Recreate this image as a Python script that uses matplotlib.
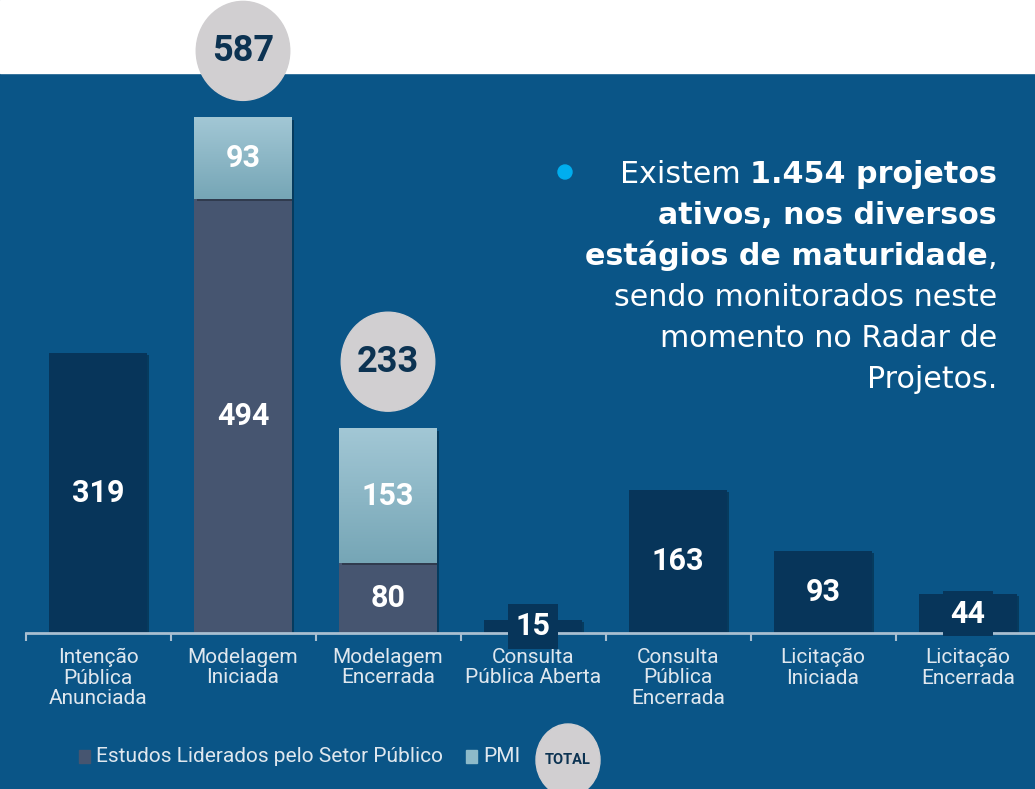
import matplotlib.pyplot as plt
import matplotlib.patches as mpatches
import matplotlib.patheffects as pe
import numpy as np

# data
categories = ['Intenção\nPública\nAnunciada', 'Modelagem\nIniciada', 'Modelagem\nEncerrada',
              'Consulta\nPública Aberta', 'Consulta\nPública\nEncerrada', 'Licitação\nIniciada',
              'Licitação\nEncerrada']
estagio_unico = [319, 0, 0, 15, 163, 93, 44]
setor_publico = [0, 494, 80, 0, 0, 0, 0]
pmi = [0, 93, 153, 0, 0, 0, 0]
legend_labels = ['Estudos Liderados pelo Setor Público', 'PMI', 'TOTAL']

BG = '#0a5587'
DARK = '#07355a'
GRAY = '#465570'
PMI_TOP = '#a2c7d5'
PMI_BOT = '#76a6b6'
CIRCLE = '#d1cfd1'
NAVY = '#0c3352'
LABEL = '#dfe7ee'
AXIS = '#a9bfd1'

W, H = 1035, 789
SCALE = 0.878  # pixels per unit


def px(x, y):
	return x / W, 1 - y / H


fig = plt.figure(figsize=(W / 100, H / 100), dpi=100, facecolor=BG)
fig.add_artist(mpatches.Rectangle((0, 1 - 73 / H), 1, 73 / H, transform=fig.transFigure,
                                  color='white', zorder=-1))

ax = fig.add_axes([25.5 / W, 156 / H, 1015 / W, 633 / H])
ax.set_facecolor('none')
x = np.arange(len(categories))
bw = 0.67
shadow = [pe.SimplePatchShadow(offset=(2, -1.5), shadow_rgbFace='black', alpha=0.3), pe.Normal()]

# single-stage bars
single = np.array(estagio_unico)
ax.bar(x, single, bw, color=DARK, path_effects=shadow, zorder=2)

# stacked bars
sp = np.array(setor_publico)
pm = np.array(pmi)
ax.bar(x, sp, bw, color=GRAY, path_effects=shadow, zorder=2)
ax.bar(x, pm, bw, bottom=sp, color=PMI_BOT, path_effects=shadow, zorder=2)
grad = np.linspace(0, 1, 100).reshape(-1, 1)
cmap = plt.matplotlib.colors.LinearSegmentedColormap.from_list('pmi', [PMI_BOT, PMI_TOP])
for i in x:
	if pm[i] > 0:
		ax.imshow(grad, cmap=cmap, origin='lower', aspect='auto', zorder=3,
		          extent=(i - bw / 2, i + bw / 2, sp[i], sp[i] + pm[i]))

# value labels
lab = dict(ha='center', va='center', color='white', fontsize=22, fontweight='bold', family='Roboto', zorder=5)
for i in x:
	if single[i] > 0:
		ax.text(i, single[i] / 2, str(single[i]),
		        bbox=dict(boxstyle='square,pad=0.25', fc=DARK, ec='none'), **lab)
	if sp[i] > 0:
		ax.text(i, sp[i] / 2, str(sp[i]), **lab)
	if pm[i] > 0:
		ax.text(i, sp[i] + pm[i] / 2, str(pm[i]), **lab)
		total = sp[i] + pm[i]
		ax.add_patch(mpatches.Ellipse((i, total + 76), 0.645, 99 / SCALE, color=CIRCLE, zorder=4, clip_on=False))
		ax.text(i, total + 76, str(total), ha='center', va='center', color=NAVY, fontsize=26,
		        fontweight='bold', family='Roboto', zorder=5, clip_on=False)

ax.set_xlim(-0.5, len(categories) - 0.5)
ax.set_ylim(0, 633 / SCALE)

# axis styling
for s in ['top', 'left', 'right']:
	ax.spines[s].set_visible(False)
ax.spines['bottom'].set_color(AXIS)
ax.spines['bottom'].set_linewidth(2)
ax.set_yticks([])
ax.set_xticks(x, categories)
ax.set_xticks(np.arange(-0.5, len(categories), 1), minor=True)
ax.tick_params(axis='x', which='major', length=0, pad=11, labelcolor=LABEL, labelsize=15)
ax.tick_params(axis='x', which='minor', length=6, width=1.5, color=AXIS, direction='out')
plt.setp(ax.get_xticklabels(), family='Roboto', linespacing=1.08)

# text block on the right
txt = dict(fontsize=21.7, color='white', family='DejaVu Sans', ha='right')
right = 997
t = fig.text(*px(right, 183), '1.454 projetos', fontweight='bold', va='baseline', **txt)
ax.annotate('Existem ', xy=(0, 0), xycoords=t, va='bottom', annotation_clip=False, **txt)
fig.text(*px(right, 224), 'ativos, nos diversos', fontweight='bold', va='baseline', **txt)
t = fig.text(*px(right, 265), ',', va='baseline', **txt)
ax.annotate('estágios de maturidade', xy=(0, 0), xycoords=t, va='bottom', fontweight='bold',
            annotation_clip=False, **txt)
fig.text(*px(right, 306), 'sendo monitorados neste', va='baseline', **txt)
fig.text(*px(right, 347), 'momento no Radar de', va='baseline', **txt)
fig.text(*px(right, 388), 'Projetos.', va='baseline', **txt)
fig.add_artist(mpatches.Ellipse(px(565, 172), 14 / W, 14 / H, transform=fig.transFigure, color='#00aeef'))

# legend
fig.add_artist(mpatches.Rectangle(px(79, 763), 11 / W, 13 / H, transform=fig.transFigure, color=GRAY))
fig.text(*px(96, 756), legend_labels[0], va='center', ha='left', fontsize=15, color=LABEL, family='Roboto')
fig.add_artist(mpatches.Rectangle(px(466, 763), 11 / W, 13 / H, transform=fig.transFigure, color='#8dbac9'))
fig.text(*px(483, 756), legend_labels[1], va='center', ha='left', fontsize=15, color=LABEL, family='Roboto')
fig.add_artist(mpatches.Ellipse(px(568, 760), 64 / W, 72 / H, transform=fig.transFigure, color=CIRCLE))
fig.text(*px(568, 760), legend_labels[2], va='center', ha='center', fontsize=10.5, color=NAVY,
         fontweight='bold', family='Roboto')

fig.savefig('out.png', dpi=100, facecolor=BG)
